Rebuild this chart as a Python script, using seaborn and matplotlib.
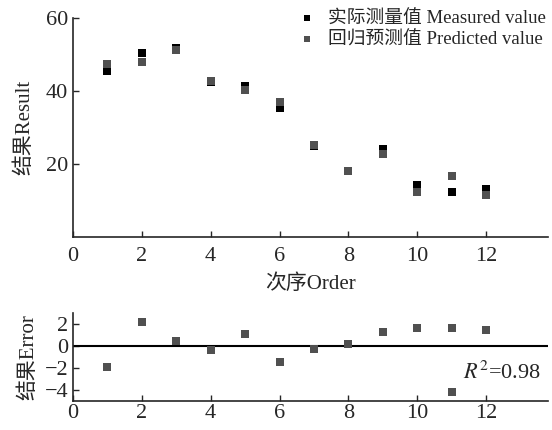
import matplotlib
matplotlib.use("Agg")
import matplotlib.pyplot as plt
import seaborn as sns
import pandas as pd

# data
order = [1, 2, 3, 4, 5, 6, 7, 8, 9, 10, 11, 12]
measured = [45.6, 50.3, 51.8, 42.5, 41.5, 35.4, 25.0, 18.1, 24.2, 14.2, 12.4, 13.2]
predicted = [47.5, 48.0, 51.3, 42.8, 40.3, 37.1, 25.3, 18.2, 22.8, 12.4, 16.7, 11.6]
err_order = [1, 2, 3, 4, 5, 6, 7, 8, 9, 10, 11, 11, 12]
error = [-1.9, 2.2, 0.45, -0.36, 1.06, -1.48, -0.27, 0.18, 1.27, 1.64, 1.67, -4.18, 1.48]

sns.set_style("ticks")
plt.rcParams['font.family'] = ['Liberation Serif', 'Noto Sans CJK SC']
plt.rcParams['mathtext.fontset'] = 'stix'

df = pd.DataFrame({"order": order, "measured": measured, "predicted": predicted})
df_err = pd.DataFrame({"order": err_order, "error": error})

fig = plt.figure(figsize=(5.52, 4.30), dpi=100)
ax1 = fig.add_axes([0.132, 0.449, 0.861, 0.509])
ax2 = fig.add_axes([0.132, 0.068, 0.861, 0.204])

c_meas = "#000000"
c_pred = "#505050"

sns.scatterplot(data=df, x="order", y="measured", ax=ax1, marker="s", s=36,
                color=c_meas, linewidth=0, label="实际测量值 Measured value", zorder=3)
sns.scatterplot(data=df, x="order", y="predicted", ax=ax1, marker="s", s=36,
                color=c_pred, linewidth=0, label="回归预测值 Predicted value", zorder=3)

ax1.set_xlim(0, 13.8)
ax1.set_ylim(0, 60)
ax1.set_xticks(range(0, 13, 2))
ax1.set_yticks([20, 40, 60])
ax1.set_xlabel("次序Order", fontsize=15, labelpad=6)
ax1.set_ylabel("结果Result", fontsize=15, labelpad=8)
ax1.legend(loc="upper right", bbox_to_anchor=(1.01, 1.07), frameon=False,
           fontsize=13.5, handletextpad=0.1, borderaxespad=0, labelspacing=0.2,
           markerscale=0.8)

sns.scatterplot(data=df_err, x="order", y="error", ax=ax2, marker="s", s=36,
                color=c_pred, linewidth=0, zorder=3)
ax2.axhline(0, color="black", linewidth=1.5)
ax2.set_xlim(0, 13.8)
ax2.set_ylim(-5, 3)
ax2.set_xticks(range(0, 13, 2))
ax2.set_yticks([-4, -2, 0, 2])
ax2.set_xlabel("")
ax2.set_ylabel("结果Error", fontsize=15, labelpad=4)
ax2.text(0.985, 0.32, r"$R^2$=0.98", transform=ax2.transAxes, ha="right",
         va="center", fontsize=16)

for ax in (ax1, ax2):
    sns.despine(ax=ax)
    ax.tick_params(direction="in", labelsize=16, length=4, width=1)
    for s in ("left", "bottom"):
        ax.spines[s].set_linewidth(1.2)
ax1.tick_params(axis="x", pad=7)
ax2.tick_params(axis="x", pad=2)

fig.savefig("out.png", dpi=100)
